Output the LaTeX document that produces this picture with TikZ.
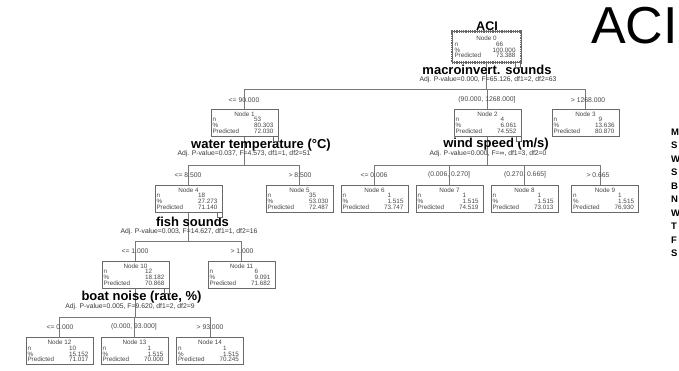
\documentclass[tikz,border=0pt]{standalone}
\usepackage{fontspec}
\setmainfont{Liberation Sans}
\definecolor{linegray}{RGB}{120,120,120}
\definecolor{boxgray}{RGB}{105,105,105}
\definecolor{txtgray}{RGB}{70,70,70}
\definecolor{subgray}{RGB}{55,55,55}
\pgfdeclarelayer{bg}
\pgfsetlayers{bg,main}

% body of one tree node: header plus decimal-aligned rows
\newcommand{\nodetext}[4]{%
  \parbox{64pt}{\makebox[64pt]{Node #1}\\
    \makebox[61pt][s]{n\hfill#2\phantom{.000}}\\
    \makebox[61pt][s]{\%\hfill#3}\\
    \makebox[61pt][s]{Predicted\hfill#4}}}

\tikzset{
  treebox/.style={draw=boxgray, line width=0.7pt, rectangle, minimum width=67pt,
    minimum height=27pt, inner sep=1pt, text=txtgray,
    font=\fontsize{6.3}{5.7}\selectfont},
  rootbox/.style={treebox, draw=none, minimum width=68pt, minimum height=30pt},
  sqbox/.style={draw=boxgray, fill=white, line width=0.5pt, minimum size=5pt,
    inner sep=0pt, anchor=north east},
  conn/.style={draw=linegray, line width=0.8pt},
  lbl/.style={inner sep=0pt, text=txtgray, font=\fontsize{6.8}{8}\selectfont},
  ttl/.style={inner sep=0pt, anchor=base, font=\fontsize{13}{15}\selectfont\bfseries},
  subttl/.style={inner sep=0pt, anchor=base, text=subgray, font=\fontsize{6.8}{8}\selectfont}
}

\begin{document}
\begin{tikzpicture}[x=1pt,y=-1pt]
\useasboundingbox (0,0) rectangle (679,370);
\begin{pgfonlayer}{bg}
\fill[white] (0,0) rectangle (679,370);
\end{pgfonlayer}

% heading and side column
\node[anchor=base west, inner sep=0pt, font=\fontsize{52}{60}\selectfont] (head) at (591,43) {ACI};
\node[anchor=north west, align=left, inner sep=0pt, font=\fontsize{9.5}{13.5}\selectfont\bfseries] (side) at (671,128.5)
  {M\\S\\W\\S\\B\\N\\W\\T\\F\\S};

% root
\node[ttl, font=\fontsize{12.5}{14}\selectfont\bfseries] (t00) at (487,30) {ACI};
\node[rootbox] (n0) at (486.5,47) {\nodetext{0}{66}{100.000}{73.388}};
\draw[line width=2.4pt, dash pattern=on 0.9pt off 0.9pt, boxgray] (n0.south west) rectangle (n0.north east);
\draw[line width=0.4pt, boxgray] (n0.south west) rectangle (n0.north east);
\node[ttl] (t0) at (487,74.5) {macroinvert. sounds};
\node[subttl] (st0) at (488,81.5) {Adj. P-value=0.000, F=65.126, df1=2, df2=63};

% first split
\node[treebox] (n1) at (244.5,122.5) {\nodetext{1}{53}{80.303}{72.030}};
\node[treebox] (n2) at (487.5,122.5) {\nodetext{2}{4}{6.061}{74.552}};
\node[treebox] (n3) at (585.5,122.5) {\nodetext{3}{9}{13.636}{80.870}};
\node[lbl] (l1) at (244,100) {<= 90.000};
\node[lbl] (l2) at (487,100) {(90.000, 1268.000]};
\node[lbl] (l3) at (588,100) {> 1268.000};

\node[ttl] (t1) at (261,148) {water temperature (°C)};
\node[subttl] (st1) at (244,155.5) {Adj. P-value=0.037, F=4.573, df1=1, df2=51};
\node[ttl] (t2) at (496,147) {wind speed (m/s)};
\node[subttl] (st2) at (488,155.5) {Adj. P-value=0.000, F=∞, df1=3, df2=0};

% second level
\node[treebox] (n4) at (188.5,198.5) {\nodetext{4}{18}{27.273}{71.140}};
\node[treebox] (n5) at (299.5,198.5) {\nodetext{5}{35}{53.030}{72.487}};
\node[treebox] (n6) at (374.5,198.5) {\nodetext{6}{1}{1.515}{73.747}};
\node[treebox] (n7) at (449.5,198.5) {\nodetext{7}{1}{1.515}{74.519}};
\node[treebox] (n8) at (524.5,198.5) {\nodetext{8}{1}{1.515}{73.013}};
\node[treebox] (n9) at (605,198.5) {\nodetext{9}{1}{1.515}{76.930}};
\node[lbl] (l4) at (188,175) {<= 8.500};
\node[lbl] (l5) at (300,175) {> 8.500};
\node[lbl] (l6) at (374,175) {<= 0.006};
\node[lbl] (l7) at (449,175) {(0.006, 0.270]};
\node[lbl] (l8) at (525,175) {(0.270, 0.665]};
\node[lbl] (l9) at (598,175) {> 0.665};

\node[ttl] (t4) at (192.5,226) {fish sounds};
\node[subttl] (st4) at (189,233.5) {Adj. P-value=0.003, F=14.627, df1=1, df2=16};

% third level
\node[treebox] (n10) at (135.5,274.5) {\nodetext{10}{12}{18.182}{70.868}};
\node[treebox] (n11) at (241.5,274.5) {\nodetext{11}{6}{9.091}{71.682}};
\node[lbl] (l10) at (135,251) {<= 1.000};
\node[lbl] (l11) at (242,251) {> 1.000};

\node[ttl] (t10) at (141.5,300) {boat noise (rate, \%)};
\node[subttl] (st10) at (130,308) {Adj. P-value=0.005, F=9.620, df1=2, df2=9};

% fourth level
\node[treebox] (n12) at (59.5,351) {\nodetext{12}{10}{15.152}{71.017}};
\node[treebox] (n13) at (134.5,351) {\nodetext{13}{1}{1.515}{70.000}};
\node[treebox] (n14) at (210,351) {\nodetext{14}{1}{1.515}{70.245}};
\node[lbl] (l12) at (60,327) {<= 0.000};
\node[lbl] (l13) at (134,327) {(0.000, 93.000]};
\node[lbl] (l14) at (210,327) {> 93.000};

% collapse markers on split nodes
\node[sqbox] (s0) at (n0.south east) {};
\node[sqbox] (s1) at (n1.south east) {};
\node[sqbox] (s2) at (n2.south east) {};
\node[sqbox] (s4) at (n4.south east) {};
\node[sqbox] (s10) at (n10.south east) {};

% connectors
\coordinate (j0) at (486.5,89);
\coordinate (j1) at (244.5,165);
\coordinate (j2) at (487.5,165);
\coordinate (j4) at (188.5,241);
\coordinate (j10) at (135.5,317);
\begin{pgfonlayer}{bg}
\draw[conn] (n0.south) -- (j0);
\draw[conn] (j0) -| (n1.north);
\draw[conn] (j0) -| (n2.north);
\draw[conn] (j0) -| (n3.north);
\draw[conn] (n1.south) -- (j1);
\draw[conn] (j1) -| (n4.north);
\draw[conn] (j1) -| (n5.north);
\draw[conn] (n2.south) -- (j2);
\draw[conn] (j2) -| (n6.north);
\draw[conn] (j2) -| (n7.north);
\draw[conn] (j2) -| (n8.north);
\draw[conn] (j2) -| ([xshift=-5pt]n9.north);
\draw[conn] (n4.south) -- (j4);
\draw[conn] (j4) -| (n10.north);
\draw[conn] (j4) -| (n11.north);
\draw[conn] (n10.south) -- (j10);
\draw[conn] (j10) -| (n12.north);
\draw[conn] (j10) -| (n13.north);
\draw[conn] (j10) -| (n14.north);
\end{pgfonlayer}
\end{tikzpicture}
\end{document}
